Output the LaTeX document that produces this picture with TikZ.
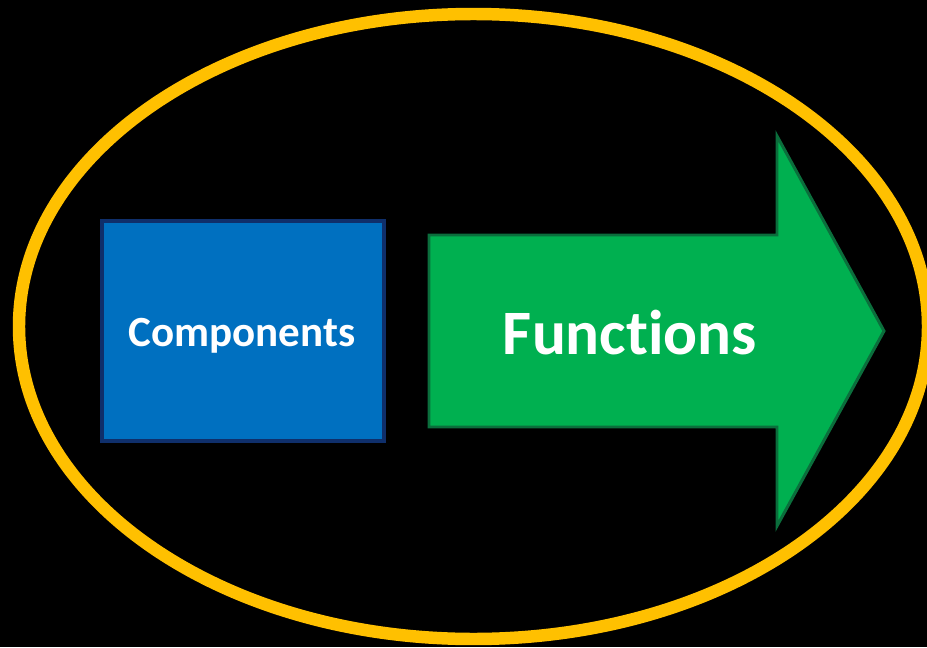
\documentclass[tikz,border=0pt]{standalone}
\usepackage{fontspec}
\setmainfont{Carlito}[Ligatures=NoCommon]
\usetikzlibrary{positioning}

\definecolor{ringgold}{HTML}{FFC000}
\definecolor{compblue}{HTML}{0070C0}
\definecolor{compnavy}{HTML}{0F2F6B}
\definecolor{funcgreen}{HTML}{00B050}
\definecolor{funcdark}{HTML}{0B6E3C}

\begin{document}
\begin{tikzpicture}[x=0.02cm, y=0.02cm,
ring/.style={draw=ringgold, line width=7.1pt},
compbox/.style={draw=compnavy, fill=compblue, line width=2.3pt, minimum width=5.64cm, minimum height=4.4cm},
comptext/.style={text=white, font=\bfseries\fontsize{24.5}{29}\selectfont},
funcarrow/.style={draw=funcdark, fill=funcgreen, line width=1.7pt, line join=miter},
functext/.style={text=white, font=\bfseries\fontsize{36}{43}\selectfont}]
\fill[black] (0,0) rectangle (927,647);
\useasboundingbox (0,0) rectangle (927,647);
\clip (0,0) rectangle (927,647);
\draw[ring] (473.5,320.5) ellipse [x radius=454.5, y radius=312.5];
\node [compbox] (comp) at (243,316) {};
\node [comptext] (comptxt) at (242,311) {Components};
\draw[funcarrow] (429,412) -- (777,412) -- (777,511) -- (884,316) -- (777,121) -- (777,220) -- (429,220) -- cycle;
\node [functext] (func) at (630,314) {Functions};
\end{tikzpicture}
\end{document}
